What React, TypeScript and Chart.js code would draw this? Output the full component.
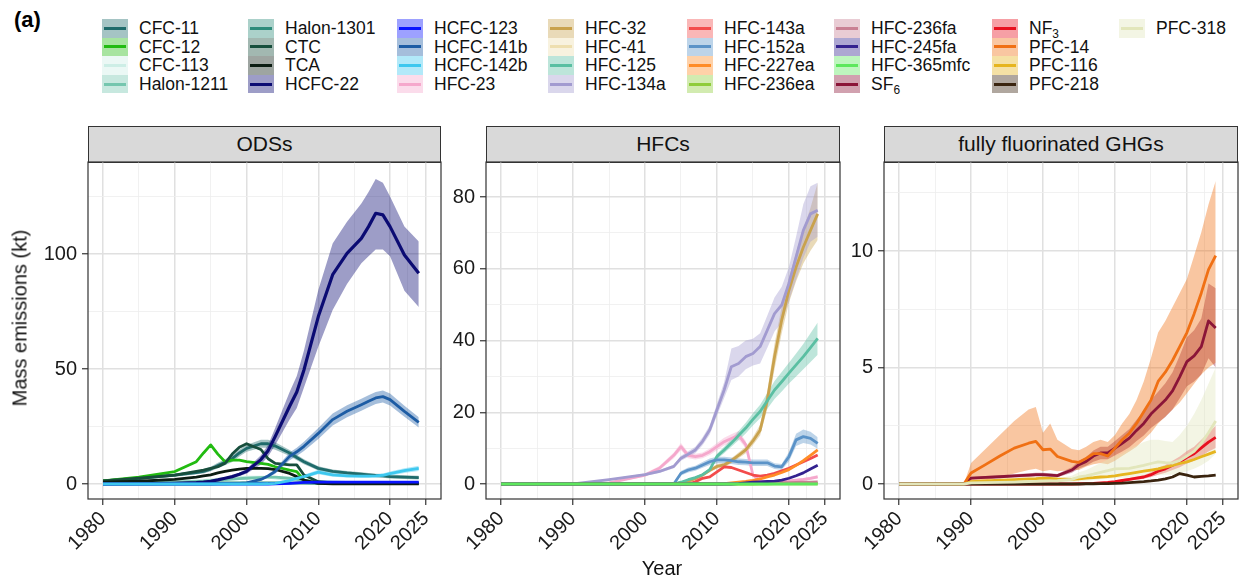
import React, { useEffect, useRef } from "react";
import { Chart, registerables } from "chart.js";

Chart.register(...registerables);

const FONT = "'Liberation Sans', Arial, Helvetica, sans-serif";

// ---------- X axis ----------
const X_MAJOR = [1980, 1990, 2000, 2010, 2020, 2025];
const X_MINOR = [1985, 1995, 2005, 2015, 2022.5];

// ---------- ODSs ----------
const YEARS_ODS = [1980, 1985, 1990, 1993, 1994, 1995, 1996, 1997, 1998, 1999, 2000, 2002, 2003, 2004, 2006, 2007, 2008, 2010, 2012, 2014, 2016, 2017, 2018, 2019, 2020, 2022, 2024];
const CFC_11 = [1.4, 2.5, 3.9, 5.0, 5.5, 6.5, 8.0, 9.5, 11.0, 13.5, 15.5, 17.5, 17.5, 16.5, 13.5, 11.5, 9.7, 6.8, 5.5, 4.8, 4.3, 4.0, 3.7, 3.5, 3.2, 3.0, 2.8];
const CFC_11_LO = [1.0, 2.0, 3.2, 4.2, 4.6, 5.5, 6.8, 8.2, 9.6, 12.0, 14.0, 15.8, 15.8, 14.9, 12.2, 10.3, 8.6, 5.9, 4.7, 4.0, 3.5, 3.2, 2.9, 2.7, 2.4, 2.2, 2.0];
const CFC_11_HI = [1.8, 3.0, 4.6, 5.8, 6.4, 7.5, 9.2, 10.8, 12.4, 15.0, 17.0, 19.2, 19.2, 18.1, 14.8, 12.7, 10.8, 7.7, 6.3, 5.6, 5.1, 4.8, 4.5, 4.3, 4.0, 3.8, 3.6];
const CFC_12 = [1.4, 3.0, 5.4, 9.7, 13.5, 17.0, 13.0, 9.7, 10.4, 10.4, 9.7, 9.0, 8.5, 7.5, 6.0, 5.4, 1.7, 0.3, 0.2, 0.2, 0.2, 0.2, 0.2, 0.2, 0.2, 0.2, 0.2];
const CFC_113 = [0.5, 0.7, 1.0, 1.4, 1.6, 1.8, 2.1, 2.4, 2.7, 2.9, 3.0, 3.0, 3.0, 2.6, 1.8, 1.4, 1.0, 0.5, 0.3, 0.3, 0.2, 0.2, 0.2, 0.2, 0.2, 0.2, 0.2];
const HALON_1211 = [0.2, 0.5, 0.8, 1.1, 1.2, 1.5, 1.7, 1.9, 2.1, 2.3, 2.5, 2.8, 3.0, 3.0, 2.5, 2.0, 1.5, 1.0, 0.8, 0.7, 0.6, 0.5, 0.5, 0.5, 0.4, 0.4, 0.4];
const HALON_1301 = [0.1, 0.2, 0.3, 0.4, 0.4, 0.5, 0.5, 0.5, 0.5, 0.5, 0.5, 0.5, 0.5, 0.5, 0.4, 0.4, 0.4, 0.3, 0.3, 0.3, 0.3, 0.3, 0.3, 0.3, 0.3, 0.3, 0.3];
const CTC = [1.4, 2.5, 3.9, 5.5, 6.0, 6.8, 7.5, 9.0, 13.0, 16.0, 17.5, 15.0, 11.0, 9.0, 8.3, 8.3, 3.9, 1.0, 0.5, 0.4, 0.4, 0.4, 0.4, 0.4, 0.4, 0.4, 0.4];
const TCA = [0.8, 1.2, 2.0, 3.0, 3.5, 4.0, 4.8, 5.5, 6.0, 6.5, 6.8, 6.8, 6.7, 6.3, 4.6, 3.2, 1.7, 0.3, 0.1, 0.1, 0.1, 0.1, 0.1, 0.1, 0.1, 0.1, 0.1];
const HCFC_22 = [0.0, 0.1, 0.3, 0.6, 0.8, 1.2, 1.8, 2.5, 3.2, 4.2, 5.5, 10.6, 14.5, 20.7, 33.8, 40.0, 49.6, 72.8, 91.0, 100.3, 106.8, 111.9, 117.7, 117.0, 111.9, 99.6, 91.6];
const HCFC_22_LO = [0.0, 0.1, 0.2, 0.5, 0.7, 1.0, 1.5, 2.1, 2.7, 3.5, 4.5, 8.5, 12.0, 17.0, 28.0, 33.0, 42.0, 59.7, 75.6, 87.0, 96.0, 99.0, 102.0, 102.0, 99.0, 84.0, 77.0];
const HCFC_22_HI = [0.0, 0.1, 0.4, 0.7, 0.9, 1.4, 2.1, 2.9, 3.7, 4.9, 6.5, 12.5, 17.0, 24.5, 40.0, 47.0, 58.0, 84.3, 104.6, 114.0, 122.0, 127.0, 132.6, 131.0, 125.0, 112.0, 105.4];
const HCFC_123 = [0, 0, 0, 0, 0, 0, 0, 0, 0, 0, 0, 0, 0, 0.1, 0.3, 0.5, 0.7, 0.8, 0.8, 0.8, 0.8, 0.8, 0.8, 0.8, 0.8, 0.8, 0.8];
const HCFC_141B = [0, 0, 0, 0, 0, 0, 0.05, 0.1, 0.2, 0.3, 0.5, 2.0, 3.5, 5.5, 12.0, 14.0, 16.4, 22.0, 28.0, 31.6, 34.5, 36.0, 37.4, 38.0, 36.7, 31.6, 26.8];
const HCFC_141B_LO = [0, 0, 0, 0, 0, 0, 0, 0.1, 0.1, 0.2, 0.3, 1.5, 2.8, 4.5, 10.3, 12.2, 14.4, 19.6, 25.4, 29.0, 31.9, 33.4, 34.8, 35.4, 34.1, 29.2, 24.6];
const HCFC_141B_HI = [0, 0, 0, 0, 0, 0, 0.1, 0.1, 0.3, 0.4, 0.7, 2.5, 4.2, 6.5, 13.7, 15.8, 18.4, 24.4, 30.6, 34.2, 37.1, 38.6, 40.0, 40.6, 39.3, 34.0, 29.0];
const HCFC_142B = [0, 0, 0, 0, 0, 0, 0, 0, 0, 0, 0, 0, 0.1, 0.3, 1.5, 2.5, 3.2, 5.2, 4.0, 3.5, 3.4, 3.4, 3.5, 3.8, 4.5, 5.8, 6.8];
const HCFC_142B_LO = [0, 0, 0, 0, 0, 0, 0, 0, 0, 0, 0, 0, 0.05, 0.2, 1.0, 1.8, 2.4, 4.2, 3.2, 2.8, 2.7, 2.7, 2.8, 3.0, 3.6, 4.8, 5.7];
const HCFC_142B_HI = [0, 0, 0, 0, 0, 0, 0, 0, 0, 0, 0, 0, 0.15, 0.4, 2.0, 3.2, 4.0, 6.2, 4.8, 4.2, 4.1, 4.1, 4.2, 4.6, 5.4, 6.8, 7.9];

// ---------- HFCs ----------
const YEARS_HFC = [1980, 1990, 1995, 2000, 2002, 2004, 2005, 2006, 2007, 2008, 2009, 2010, 2011, 2012, 2013, 2014, 2015, 2016, 2017, 2018, 2019, 2020, 2021, 2022, 2023, 2024];
const HFC_23 = [0, 0, 0.3, 2.5, 4.4, 8.0, 10.4, 8.0, 7.6, 8.0, 9.0, 10.4, 11.8, 12.7, 13.6, 11.0, 2.5, 0.8, 0.7, 0.7, 0.8, 0.9, 1.1, 1.3, 1.6, 2.0];
const HFC_23_LO = [0, 0, 0.2, 2.0, 3.8, 7.2, 9.4, 7.2, 6.8, 7.2, 8.1, 9.4, 10.7, 11.5, 12.4, 10.0, 2.0, 0.5, 0.4, 0.4, 0.5, 0.6, 0.8, 1.0, 1.2, 1.5];
const HFC_23_HI = [0, 0, 0.4, 3.0, 5.0, 8.8, 11.4, 8.8, 8.4, 8.8, 9.9, 11.4, 12.9, 13.9, 14.8, 12.0, 3.0, 1.1, 1.0, 1.0, 1.1, 1.2, 1.4, 1.6, 2.0, 2.5];
const HFC_32 = [0, 0, 0, 0, 0, 0, 0.3, 0.8, 1.5, 2.5, 3.8, 4.9, 5.3, 6.5, 8.0, 9.5, 12.0, 15.0, 23.4, 35.5, 45.7, 54.0, 60.5, 66.0, 70.7, 75.3];
const HFC_32_LO = [0, 0, 0, 0, 0, 0, 0.2, 0.6, 1.2, 2.1, 3.3, 4.3, 4.7, 5.8, 7.2, 8.6, 10.9, 13.5, 21.0, 32.0, 42.0, 50.5, 56.5, 61.5, 65.0, 68.0];
const HFC_32_HI = [0, 0, 0, 0, 0, 0, 0.4, 1.0, 1.8, 2.9, 4.3, 5.5, 5.9, 7.2, 8.8, 10.4, 13.1, 16.5, 26.0, 39.0, 49.5, 57.5, 64.5, 71.0, 77.0, 84.0];
const HFC_41 = [0, 0, 0, 0, 0, 0, 0, 0, 0, 0, 0, 0, 0, 0, 0, 0, 0, 0, 0, 0, 0, 0, 0, 0, 0, 0];
const HFC_125 = [0, 0, 0, 0, 0, 0, 0.5, 1.2, 1.8, 2.6, 4.0, 7.7, 9.5, 11.4, 13.5, 15.6, 18.0, 20.2, 23.2, 26.2, 28.5, 30.9, 33.2, 35.5, 38.0, 40.6];
const HFC_125_LO = [0, 0, 0, 0, 0, 0, 0.4, 1.0, 1.5, 2.2, 3.5, 7.0, 8.6, 10.4, 12.2, 14.1, 16.3, 18.3, 21.0, 23.7, 25.8, 28.0, 30.0, 32.0, 34.0, 36.0];
const HFC_125_HI = [0, 0, 0, 0, 0, 0, 0.6, 1.4, 2.1, 3.0, 4.5, 8.4, 10.4, 12.4, 14.8, 17.1, 19.7, 22.1, 25.4, 28.7, 31.2, 33.8, 36.4, 39.0, 42.0, 45.0];
const HFC_134A = [0, 0, 1.2, 2.6, 3.5, 4.9, 7.2, 8.3, 9.5, 11.9, 15.1, 20.7, 26.2, 32.7, 33.6, 35.5, 36.4, 38.3, 42.9, 47.5, 49.9, 55.9, 63.3, 70.7, 75.3, 76.3];
const HFC_134A_LO = [0, 0, 1.0, 2.3, 3.1, 4.4, 6.5, 7.5, 8.6, 10.8, 13.8, 19.0, 24.0, 29.0, 30.0, 32.0, 33.0, 33.6, 38.0, 42.5, 45.0, 51.0, 57.0, 63.0, 67.5, 68.9];
const HFC_134A_HI = [0, 0, 1.4, 2.9, 3.9, 5.4, 7.9, 9.1, 10.4, 13.0, 16.4, 22.4, 28.4, 37.8, 38.5, 40.0, 40.5, 42.0, 47.0, 52.0, 55.0, 60.5, 69.0, 78.0, 83.0, 84.0];
const HFC_143A = [0, 0, 0, 0, 0, 0, 0, 0, 0.6, 1.6, 2.0, 3.4, 4.8, 4.6, 3.9, 3.2, 2.5, 2.2, 2.5, 3.0, 3.7, 4.4, 5.3, 6.2, 7.1, 8.1];
const HFC_152A = [0, 0, 0, 0, 0, 0, 3.0, 3.9, 4.4, 5.3, 6.2, 6.7, 6.7, 6.5, 6.2, 6.1, 5.9, 5.9, 5.9, 5.0, 4.8, 7.6, 12.3, 13.2, 12.7, 11.3];
const HFC_152A_LO = [0, 0, 0, 0, 0, 0, 2.4, 3.2, 3.7, 4.5, 5.3, 5.8, 5.8, 5.6, 5.3, 5.2, 5.0, 5.0, 5.0, 4.2, 4.0, 6.3, 10.6, 11.4, 11.0, 9.8];
const HFC_152A_HI = [0, 0, 0, 0, 0, 0, 3.6, 4.6, 5.1, 6.1, 7.1, 7.6, 7.6, 7.4, 7.1, 7.0, 6.8, 6.8, 6.8, 5.8, 5.6, 8.9, 14.0, 15.2, 14.6, 13.0];
const HFC_227EA = [0, 0, 0, 0, 0, 0, 0, 0, 0, 0, 0, 0, 0.1, 0.3, 0.5, 0.7, 1.0, 1.4, 2.0, 2.5, 3.2, 4.0, 5.2, 6.5, 8.0, 9.5];
const HFC_236EA = [0, 0, 0, 0, 0, 0, 0, 0, 0, 0, 0, 0, 0, 0, 0, 0, 0, 0.05, 0.05, 0.1, 0.1, 0.1, 0.15, 0.15, 0.2, 0.2];
const HFC_236FA = [0, 0, 0, 0, 0, 0, 0, 0, 0, 0, 0, 0, 0.05, 0.1, 0.1, 0.15, 0.2, 0.25, 0.3, 0.3, 0.35, 0.4, 0.45, 0.5, 0.55, 0.6];
const HFC_245FA = [0, 0, 0, 0, 0, 0, 0, 0, 0, 0, 0, 0, 0, 0, 0.1, 0.3, 0.5, 0.6, 0.7, 0.8, 1.1, 1.6, 2.3, 3.1, 4.2, 5.2];
const HFC_365MFC = [0, 0, 0, 0, 0, 0, 0, 0, 0, 0, 0, 0, 0, 0, 0, 0, 0, 0, 0, 0, 0, 0, 0, 0, 0, 0];

// ---------- fully fluorinated GHGs ----------
const YEARS_FF = [1980, 1989, 1990, 1992, 1994, 1996, 1998, 1999, 2000, 2001, 2002, 2004, 2005, 2006, 2007, 2008, 2009, 2010, 2011, 2012, 2013, 2014, 2015, 2016, 2017, 2018, 2019, 2020, 2021, 2022, 2023, 2024];
const SF6 = [0, 0, 0.25, 0.28, 0.31, 0.35, 0.38, 0.4, 0.4, 0.38, 0.36, 0.6, 0.83, 0.97, 1.2, 1.33, 1.33, 1.54, 1.75, 1.97, 2.3, 2.6, 3.0, 3.3, 3.6, 4.0, 4.6, 5.25, 5.5, 5.9, 7.0, 6.7];
const SF6_LO = [0, 0, 0.2, 0.22, 0.25, 0.28, 0.3, 0.32, 0.32, 0.3, 0.29, 0.48, 0.66, 0.78, 0.96, 1.06, 1.06, 1.23, 1.4, 1.58, 1.84, 2.08, 2.4, 2.64, 2.88, 3.2, 3.68, 4.2, 4.4, 4.7, 5.4, 5.0];
const SF6_HI = [0, 0, 0.3, 0.34, 0.37, 0.42, 0.46, 0.48, 0.48, 0.46, 0.43, 0.72, 1.0, 1.16, 1.44, 1.6, 1.6, 1.85, 2.1, 2.36, 2.76, 3.12, 3.6, 3.96, 4.32, 4.8, 5.52, 6.3, 6.6, 7.1, 8.6, 8.4];
const NF3 = [0, 0, 0, 0, 0, 0, 0, 0, 0, 0, 0, 0, 0.01, 0.02, 0.03, 0.05, 0.07, 0.1, 0.15, 0.2, 0.25, 0.3, 0.4, 0.55, 0.65, 0.8, 0.95, 1.15, 1.3, 1.55, 1.8, 2.0];
const NF3_LO = [0, 0, 0, 0, 0, 0, 0, 0, 0, 0, 0, 0, 0.01, 0.01, 0.02, 0.03, 0.05, 0.07, 0.1, 0.14, 0.18, 0.22, 0.3, 0.4, 0.48, 0.6, 0.72, 0.88, 1.0, 1.2, 1.4, 1.55];
const NF3_HI = [0, 0, 0, 0, 0, 0, 0, 0, 0, 0, 0, 0, 0.02, 0.03, 0.04, 0.07, 0.09, 0.13, 0.2, 0.26, 0.32, 0.38, 0.5, 0.7, 0.82, 1.0, 1.18, 1.42, 1.6, 1.9, 2.2, 2.5];
const PFC_14 = [0, 0, 0.47, 0.83, 1.2, 1.54, 1.75, 1.83, 1.47, 1.5, 1.18, 0.97, 0.93, 1.1, 1.3, 1.3, 1.2, 1.54, 1.9, 2.18, 2.6, 3.1, 3.6, 4.4, 4.8, 5.3, 5.9, 6.5, 7.3, 8.2, 9.2, 9.8];
const PFC_14_LO = [0, 0, 0.05, 0.15, 0.3, 0.45, 0.6, 0.65, 0.55, 0.6, 0.55, 0.6, 0.6, 0.75, 0.85, 0.9, 0.85, 1.0, 1.2, 1.4, 1.6, 1.9, 2.2, 2.6, 2.9, 3.2, 3.5, 3.9, 4.3, 4.7, 5.0, 5.2];
const PFC_14_HI = [0, 0, 0.9, 1.5, 2.1, 2.7, 3.2, 3.3, 2.2, 2.6, 1.9, 1.5, 1.45, 1.6, 1.8, 1.9, 1.8, 2.1, 2.6, 3.0, 3.6, 4.4, 5.4, 6.5, 7.0, 7.6, 8.2, 8.8, 9.8, 10.8, 12.0, 13.0];
const PFC_116 = [0, 0, 0.1, 0.13, 0.16, 0.19, 0.22, 0.23, 0.25, 0.24, 0.22, 0.2, 0.22, 0.25, 0.27, 0.3, 0.32, 0.35, 0.4, 0.45, 0.5, 0.55, 0.6, 0.65, 0.72, 0.8, 0.88, 0.95, 1.05, 1.17, 1.28, 1.4];
const PFC_218 = [0, 0, 0, 0, 0, 0, 0, 0, 0, 0, 0, 0, 0, 0.01, 0.01, 0.02, 0.02, 0.03, 0.04, 0.06, 0.08, 0.1, 0.13, 0.17, 0.22, 0.3, 0.45, 0.38, 0.3, 0.33, 0.35, 0.38];
const PFC_318 = [0, 0, 0.05, 0.06, 0.07, 0.08, 0.1, 0.11, 0.12, 0.13, 0.14, 0.2, 0.3, 0.35, 0.42, 0.5, 0.57, 0.65, 0.66, 0.67, 0.73, 0.8, 0.88, 0.95, 0.92, 0.9, 1.0, 1.2, 1.4, 1.75, 2.2, 2.7];
const PFC_318_LO = [0, 0, 0.02, 0.02, 0.03, 0.03, 0.04, 0.04, 0.05, 0.05, 0.06, 0.08, 0.12, 0.14, 0.17, 0.2, 0.23, 0.26, 0.27, 0.27, 0.3, 0.33, 0.36, 0.4, 0.4, 0.4, 0.45, 0.55, 0.65, 0.8, 1.0, 1.3];
const PFC_318_HI = [0, 0, 0.08, 0.1, 0.12, 0.14, 0.17, 0.18, 0.2, 0.22, 0.24, 0.35, 0.5, 0.6, 0.75, 0.9, 1.05, 1.2, 1.3, 1.5, 1.65, 1.8, 1.9, 1.9, 1.85, 1.8, 2.1, 2.5, 3.0, 3.6, 4.3, 5.0];

// ---------- series metadata ----------
type Series = { name: string; color: string; values: number[]; lo?: number[]; hi?: number[]; width?: number };

const ODS_SERIES: Series[] = [
  { name: "CFC-11", color: "#1f6b6b", values: CFC_11, lo: CFC_11_LO, hi: CFC_11_HI },
  { name: "CFC-12", color: "#22bb11", values: CFC_12 },
  { name: "CFC-113", color: "#cdeee6", values: CFC_113 },
  { name: "Halon-1211", color: "#74c6ae", values: HALON_1211 },
  { name: "Halon-1301", color: "#2e8b7a", values: HALON_1301 },
  { name: "CTC", color: "#174e3c", values: CTC },
  { name: "TCA", color: "#0c1d13", values: TCA },
  { name: "HCFC-22", color: "#0b0b73", values: HCFC_22, lo: HCFC_22_LO, hi: HCFC_22_HI, width: 3.2 },
  { name: "HCFC-123", color: "#0a14ff", values: HCFC_123 },
  { name: "HCFC-141b", color: "#1d5ca4", values: HCFC_141B, lo: HCFC_141B_LO, hi: HCFC_141B_HI },
  { name: "HCFC-142b", color: "#3ec8ef", values: HCFC_142B, lo: HCFC_142B_LO, hi: HCFC_142B_HI },
];

const HFC_SERIES: Series[] = [
  { name: "HFC-23", color: "#f5a8cc", values: HFC_23, lo: HFC_23_LO, hi: HFC_23_HI },
  { name: "HFC-32", color: "#c9a24d", values: HFC_32, lo: HFC_32_LO, hi: HFC_32_HI },
  { name: "HFC-41", color: "#eedfb0", values: HFC_41 },
  { name: "HFC-125", color: "#5abfa2", values: HFC_125, lo: HFC_125_LO, hi: HFC_125_HI },
  { name: "HFC-134a", color: "#a29bd0", values: HFC_134A, lo: HFC_134A_LO, hi: HFC_134A_HI },
  { name: "HFC-143a", color: "#f34b4b", values: HFC_143A },
  { name: "HFC-152a", color: "#5b93c8", values: HFC_152A, lo: HFC_152A_LO, hi: HFC_152A_HI },
  { name: "HFC-227ea", color: "#ff8c26", values: HFC_227EA },
  { name: "HFC-236ea", color: "#8fcc3a", values: HFC_236EA },
  { name: "HFC-236fa", color: "#c98093", values: HFC_236FA },
  { name: "HFC-245fa", color: "#33228f", values: HFC_245FA },
  { name: "HFC-365mfc", color: "#5de85d", values: HFC_365MFC },
];

const FF_SERIES: Series[] = [
  { name: "SF6", color: "#8b1538", values: SF6, lo: SF6_LO, hi: SF6_HI },
  { name: "NF3", color: "#e8101f", values: NF3, lo: NF3_LO, hi: NF3_HI },
  { name: "PFC-14", color: "#f07014", values: PFC_14, lo: PFC_14_LO, hi: PFC_14_HI },
  { name: "PFC-116", color: "#e6b51f", values: PFC_116 },
  { name: "PFC-218", color: "#3a240f", values: PFC_218 },
  { name: "PFC-318", color: "#e2e6bb", values: PFC_318, lo: PFC_318_LO, hi: PFC_318_HI },
];

const ALL_SERIES = [...ODS_SERIES, ...HFC_SERIES, ...FF_SERIES];

const PANELS = [
  { title: "ODSs", years: YEARS_ODS, series: ODS_SERIES, yMin: -6.52, yMax: 140, yMajor: [0, 50, 100], yMinor: [25, 75, 125], left: 28, width: 415, yW: 60 },
  { title: "HFCs", years: YEARS_HFC, series: HFC_SERIES, yMin: -4.18, yMax: 89.76, yMajor: [0, 20, 40, 60, 80], yMinor: [10, 30, 50, 70], left: 436, width: 406, yW: 50 },
  { title: "fully fluorinated GHGs", years: YEARS_FF, series: FF_SERIES, yMin: -0.644, yMax: 13.82, yMajor: [0, 5, 10], yMinor: [2.5, 7.5, 12.5], left: 834, width: 406, yW: 50 },
];

const CANVAS_TOP = 160;
const CANVAS_H = 424;
const X_AXIS_H = 85;
const BAND_ALPHA = 0.4;
const LEGEND_COL_X = [102, 248, 397, 548, 687, 834, 992, 1119];

function rgba(hex: string, a: number) {
  const n = parseInt(hex.slice(1), 16);
  return `rgba(${(n >> 16) & 255},${(n >> 8) & 255},${n & 255},${a})`;
}

const panelBorder = {
  id: "panelBorder",
  afterDraw(chart: any) {
    const { ctx, chartArea: a } = chart;
    ctx.save();
    ctx.strokeStyle = "#333333";
    ctx.lineWidth = 1.2;
    ctx.strokeRect(a.left, a.top, a.right - a.left, a.bottom - a.top);
    ctx.restore();
  },
};

function makeConfig(p: any) {
  const datasets: any[] = [];
  p.series.forEach((s: Series, i: number) => {
    datasets.push({
      label: s.name,
      data: p.years.map((x: number, j: number) => ({ x, y: s.values[j] })),
      borderColor: s.color,
      borderWidth: s.width ?? 2.8,
      borderJoinStyle: "round",
      pointRadius: 0,
      pointHoverRadius: 0,
      fill: false,
      tension: 0,
      order: 100 - i,
    });
    if (s.lo && s.hi) {
      const loIdx = datasets.length;
      datasets.push({
        label: s.name + " lower",
        data: p.years.map((x: number, j: number) => ({ x, y: s.lo![j] })),
        borderColor: "rgba(0,0,0,0)",
        borderWidth: 0,
        pointRadius: 0,
        fill: false,
        tension: 0,
        order: 1000 - i,
      });
      datasets.push({
        label: s.name + " upper",
        data: p.years.map((x: number, j: number) => ({ x, y: s.hi![j] })),
        borderColor: "rgba(0,0,0,0)",
        borderWidth: 0,
        pointRadius: 0,
        fill: loIdx,
        backgroundColor: rgba(s.color, BAND_ALPHA),
        tension: 0,
        order: 1000 - i,
      });
    }
  });

  const xAll = [...X_MAJOR, ...X_MINOR].sort((a, b) => a - b);
  const yAll = [...p.yMajor, ...p.yMinor].sort((a: number, b: number) => a - b);
  const isXMajor = (v: number) => X_MAJOR.includes(v);
  const isYMajor = (v: number) => p.yMajor.includes(v);

  return {
    type: "line",
    data: { datasets },
    plugins: [panelBorder],
    options: {
      animation: false,
      responsive: false,
      devicePixelRatio: 1,
      layout: { padding: { top: 2, right: 2, left: 0, bottom: 0 } },
      plugins: { legend: { display: false }, tooltip: { enabled: false }, title: { display: false } },
      events: [],
      scales: {
        x: {
          type: "linear",
          min: 1977.9,
          max: 2027.1,
          afterBuildTicks: (s: any) => {
            s.ticks = xAll.map((v) => ({ value: v }));
          },
          afterFit: (s: any) => {
            s.height = X_AXIS_H;
            s.paddingLeft = 0;
            s.paddingRight = 0;
          },
          border: { display: false },
          grid: {
            color: (c: any) => (isXMajor(c.tick?.value) ? "#e0e0e0" : "#eeeeee"),
            lineWidth: (c: any) => (isXMajor(c.tick?.value) ? 1.5 : 0.8),
            tickColor: (c: any) => (isXMajor(c.tick?.value) ? "#333333" : "rgba(0,0,0,0)"),
            tickLength: 6,
            tickWidth: 1.2,
          },
          ticks: {
            autoSkip: false,
            minRotation: 45,
            maxRotation: 45,
            padding: 2,
            color: "#1a1a1a",
            font: { size: 20, family: FONT },
            callback: (v: number) => (isXMajor(v) ? String(v) : ""),
          },
        },
        y: {
          type: "linear",
          min: p.yMin,
          max: p.yMax,
          afterBuildTicks: (s: any) => {
            s.ticks = yAll.map((v: number) => ({ value: v }));
          },
          afterFit: (s: any) => {
            s.width = p.yW;
            s.paddingTop = 0;
            s.paddingBottom = 0;
          },
          border: { display: false },
          grid: {
            color: (c: any) => (isYMajor(c.tick?.value) ? "#e0e0e0" : "#eeeeee"),
            lineWidth: (c: any) => (isYMajor(c.tick?.value) ? 1.5 : 0.8),
            tickColor: (c: any) => (isYMajor(c.tick?.value) ? "#333333" : "rgba(0,0,0,0)"),
            tickLength: 6,
            tickWidth: 1.2,
          },
          ticks: {
            autoSkip: false,
            padding: 5,
            color: "#1a1a1a",
            font: { size: 20, family: FONT },
            callback: (v: number) => (isYMajor(v) ? String(v) : ""),
          },
        },
      },
    },
  } as any;
}

function LegendLabel({ name }: { name: string }) {
  if (name === "SF6" || name === "NF3") {
    return (
      <>
        {name.slice(0, 2)}
        <sub style={{ fontSize: "0.68em", verticalAlign: "-0.3em", lineHeight: 0 }}>{name.slice(2)}</sub>
      </>
    );
  }
  return <>{name}</>;
}

export default function App() {
  const r0 = useRef<HTMLCanvasElement>(null);
  const r1 = useRef<HTMLCanvasElement>(null);
  const r2 = useRef<HTMLCanvasElement>(null);

  useEffect(() => {
    Chart.defaults.font.family = FONT;
    const refs = [r0, r1, r2];
    const charts = PANELS.map((p, i) => new Chart(refs[i].current as HTMLCanvasElement, makeConfig(p)));
    return () => charts.forEach((c) => c.destroy());
  }, []);

  const refs = [r0, r1, r2];
  const ROW_H = 18.6;

  return (
    <div style={{ position: "absolute", left: 0, top: 0, width: 1244, height: 584, background: "#fff", overflow: "hidden", fontFamily: FONT, color: "#1a1a1a" }}>
      <div style={{ position: "absolute", left: 14, top: 8, fontSize: 22, fontWeight: "bold", lineHeight: "24px", color: "#000" }}>(a)</div>

      {ALL_SERIES.map((s, k) => {
        const col = Math.floor(k / 4);
        const row = k % 4;
        const x = LEGEND_COL_X[col];
        const y = 19 + row * ROW_H;
        return (
          <React.Fragment key={s.name}>
            <div style={{ position: "absolute", left: x, top: y, width: 26, height: ROW_H, background: rgba(s.color, BAND_ALPHA) }} />
            <div style={{ position: "absolute", left: x + 2, top: y + ROW_H / 2 - 1.5, width: 22, height: 3, background: s.color }} />
            <div style={{ position: "absolute", left: x + 37, top: y, height: ROW_H, lineHeight: ROW_H + "px", fontSize: 17.5, whiteSpace: "nowrap", color: "#111" }}>
              <LegendLabel name={s.name} />
            </div>
          </React.Fragment>
        );
      })}

      {PANELS.map((p) => (
        <div
          key={p.title}
          style={{
            position: "absolute",
            left: p.left + p.yW,
            top: 126,
            width: p.width - p.yW - 2,
            height: 37,
            boxSizing: "border-box",
            border: "1.2px solid #333",
            background: "#d9d9d9",
            textAlign: "center",
            lineHeight: "34px",
            fontSize: 21,
            color: "#111",
          }}
        >
          {p.title}
        </div>
      ))}

      {PANELS.map((p, i) => (
        <canvas
          key={"c" + i}
          ref={refs[i]}
          width={p.width}
          height={CANVAS_H}
          style={{ position: "absolute", left: p.left, top: CANVAS_TOP, width: p.width, height: CANVAS_H }}
        />
      ))}

      <div style={{ position: "absolute", left: 20, top: 318, transform: "translate(-50%, -50%) rotate(-90deg)", fontSize: 20, whiteSpace: "nowrap", color: "#111" }}>
        Mass emissions (kt)
      </div>
      <div style={{ position: "absolute", left: 662, top: 568, transform: "translate(-50%, -50%)", fontSize: 20, whiteSpace: "nowrap", color: "#111" }}>
        Year
      </div>
    </div>
  );
}
